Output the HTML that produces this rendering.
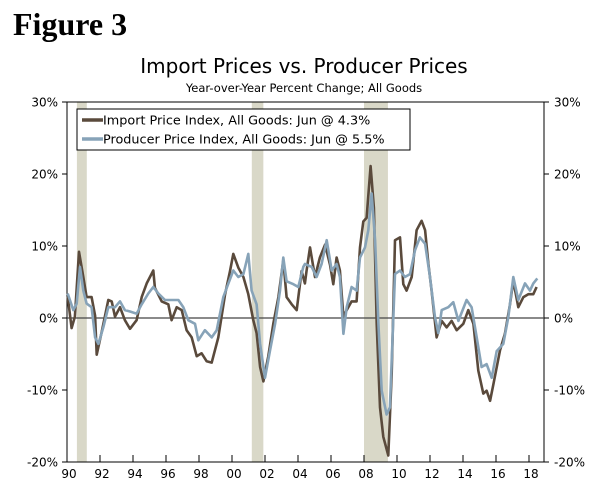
<!DOCTYPE html>
<html><head><meta charset="utf-8"><style>
body{margin:0;background:#fff;width:600px;height:492px;overflow:hidden}
svg text{font-family:"DejaVu Sans","Liberation Sans",sans-serif;fill:#000}
</style></head><body>
<svg width="600" height="492">
<text x="13" y="35" style="font-family:'Liberation Serif',serif;font-weight:bold;font-size:32px">Figure 3</text>
<text x="304" y="73" text-anchor="middle" font-size="20">Import Prices vs. Producer Prices</text>
<text x="304" y="92" text-anchor="middle" font-size="11.5">Year-over-Year Percent Change; All Goods</text>
<g id="rec"></g>
<g id="axes"></g>
<g id="lines"></g>
<g>
<rect x="77" y="109" width="333" height="41" fill="#fff" stroke="#000" stroke-width="1"/>
<line x1="82" y1="120" x2="103" y2="120" stroke="#5a4a3c" stroke-width="3.5"/>
<text x="103" y="124.5" font-size="12.8">Import Price Index, All Goods: Jun @ 4.3%</text>
<line x1="82" y1="139" x2="103" y2="139" stroke="#87a3b8" stroke-width="3.5"/>
<text x="103" y="143.5" font-size="12.8">Producer Price Index, All Goods: Jun @ 5.5%</text>
</g>
</svg>
<script>
const recessions=[[1990.6,1991.2],[2001.2,2001.9],[2008.0,2009.45]];
const yTicks=[30,20,10,0,-10,-20];
const xTickLabels=["90","92","94","96","98","00","02","04","06","08","10","12","14","16","18"];
const xTickYears=[1990,1992,1994,1996,1998,2000,2002,2004,2006,2008,2010,2012,2014,2016,2018];
const impDates=[1990.04,1990.28,1990.48,1990.73,1990.99,1991.19,1991.49,1991.70,1991.80,1992.10,1992.50,1992.71,1992.91,1993.21,1993.51,1993.82,1994.22,1994.53,1994.83,1995.23,1995.33,1995.74,1996.14,1996.34,1996.65,1996.95,1997.25,1997.56,1997.86,1998.16,1998.46,1998.77,1999.17,1999.58,1999.88,2000.08,2000.38,2000.69,2000.99,2001.29,2001.49,2001.70,2001.90,2002.20,2002.50,2002.81,2003.11,2003.31,2003.62,2003.92,2004.22,2004.42,2004.52,2004.73,2005.03,2005.33,2005.64,2005.94,2006.14,2006.34,2006.54,2006.75,2006.95,2007.25,2007.55,2007.76,2007.96,2008.16,2008.40,2008.60,2008.77,2008.97,2009.17,2009.47,2009.68,2009.88,2010.18,2010.38,2010.58,2010.89,2011.19,2011.49,2011.70,2011.90,2012.10,2012.40,2012.71,2013.01,2013.31,2013.62,2014.02,2014.32,2014.63,2014.93,2015.23,2015.43,2015.64,2015.84,2016.24,2016.54,2016.85,2017.05,2017.35,2017.66,2017.96,2018.26,2018.46];
const impValues=[3.0,-1.4,0.2,9.2,5.7,2.9,2.9,0.3,-5.1,-2.0,2.5,2.3,0.2,1.5,-0.3,-1.5,-0.3,2.9,4.8,6.6,4.2,2.3,1.9,-0.3,1.5,1.1,-1.7,-2.7,-5.3,-4.9,-6.0,-6.2,-2.7,3.3,6.5,8.9,7.0,5.7,3.3,-0.3,-2.1,-6.8,-8.8,-5.3,-0.8,2.9,8.0,2.9,1.9,1.1,6.5,4.8,6.6,9.8,5.7,8.4,10.2,7.4,4.7,8.4,6.6,0.2,1.1,2.3,2.3,9.8,13.4,13.9,21.1,15.3,-0.8,-12.4,-16.5,-19.1,-7.7,10.8,11.2,4.7,3.8,5.7,12.2,13.5,12.2,7.5,3.8,-2.7,-0.4,-1.3,-0.4,-1.7,-0.8,1.1,-0.8,-7.3,-10.5,-10.1,-11.5,-9.2,-4.5,-2.2,1.9,5.2,1.5,2.9,3.3,3.3,4.3];
const ppiDates=[1990.04,1990.38,1990.59,1990.79,1990.99,1991.19,1991.49,1991.70,1991.90,1992.20,1992.50,1992.91,1993.21,1993.51,1993.82,1994.22,1994.53,1994.93,1995.23,1995.54,1995.94,1996.34,1996.75,1997.05,1997.35,1997.76,1997.96,1998.36,1998.77,1999.07,1999.47,1999.78,2000.08,2000.38,2000.69,2000.99,2001.19,2001.49,2001.70,2002.00,2002.30,2002.61,2002.91,2003.11,2003.31,2003.72,2004.02,2004.32,2004.42,2004.83,2005.13,2005.43,2005.74,2006.04,2006.34,2006.54,2006.75,2006.95,2007.25,2007.55,2007.76,2008.06,2008.26,2008.46,2008.67,2008.87,2009.07,2009.37,2009.57,2009.88,2010.18,2010.48,2010.79,2011.09,2011.39,2011.70,2012.00,2012.30,2012.50,2012.71,2013.11,2013.41,2013.72,2014.22,2014.52,2014.83,2015.13,2015.43,2015.74,2016.04,2016.44,2016.75,2017.05,2017.35,2017.76,2018.06,2018.26,2018.50];
const ppiValues=[3.4,1.1,2.0,7.1,3.8,2.0,1.5,-2.7,-3.6,-1.3,1.5,1.5,2.3,1.1,0.9,0.6,1.9,3.4,4.3,3.4,2.5,2.5,2.5,1.5,-0.3,-0.8,-3.1,-1.7,-2.7,-1.7,2.9,4.8,6.6,5.7,6.1,8.9,3.8,1.9,-3.6,-8.3,-4.6,-0.8,3.8,8.4,5.1,4.7,4.3,7.1,7.5,7.1,5.7,7.5,10.8,6.6,7.5,5.7,-2.2,1.5,4.3,3.8,8.4,9.8,12.2,17.3,10.8,-0.8,-10.1,-13.4,-12.4,6.1,6.6,5.7,6.1,9.4,11.2,10.3,5.7,0.2,-2.1,1.1,1.5,2.2,-0.4,2.5,1.5,-2.7,-6.8,-6.4,-8.3,-4.6,-3.6,0.2,5.7,2.5,4.8,3.8,4.8,5.5];

const L=67,R=544,T=102,B=462;
const xs=y=>L+(y-1990)*16.5;
const ys=v=>318-v*7.2;
const NS="http://www.w3.org/2000/svg";
function mk(p,tag,at){const e=document.createElementNS(NS,tag);for(const k in at)e.setAttribute(k,at[k]);p.appendChild(e);return e;}
const rec=document.getElementById('rec'),ax=document.getElementById('axes'),ln=document.getElementById('lines');
recessions.forEach(r=>{const e=mk(rec,'rect',{x:xs(r[0]),y:T,width:xs(r[1])-xs(r[0]),height:B-T,fill:'#d9d8c8'});

});
const fr=mk(ax,'rect',{x:L,y:T,width:R-L,height:B-T,fill:'none',stroke:'#000','stroke-width':1});


const z=mk(ax,'line',{x1:L,x2:R,y1:ys(0),y2:ys(0),stroke:'#444','stroke-width':1.2});


yTicks.forEach(v=>{const y=ys(v);
mk(ax,'line',{x1:L-5,x2:L,y1:y,y2:y,stroke:'#000'});
mk(ax,'line',{x1:R,x2:R+5,y1:y,y2:y,stroke:'#000'});
const a=mk(ax,'text',{x:L-9,y:y+4.5,'text-anchor':'end','font-size':12});a.textContent=v+'%';


const b=mk(ax,'text',{x:R+10,y:y+4.5,'font-size':12});b.textContent=v+'%';

});
xTickYears.forEach((yr,i)=>{const x=xs(yr);
mk(ax,'line',{x1:x,x2:x,y1:B-7,y2:B,stroke:'#000'});
const t=mk(ax,'text',{x:x+2,y:B+16,'text-anchor':'middle','font-size':12});t.textContent=xTickLabels[i];

});
function path(d,v,col,name){const p=mk(ln,'path',{d:d.map((t,i)=>(i?'L':'M')+xs(t).toFixed(1)+','+ys(v[i]).toFixed(1)).join(''),fill:'none',stroke:col,'stroke-width':2.6,'stroke-linejoin':'round'});

}
path(impDates,impValues,'#5a4a3c','import-price-line');
path(ppiDates,ppiValues,'#87a3b8','producer-price-line');
</script>
</body></html>
